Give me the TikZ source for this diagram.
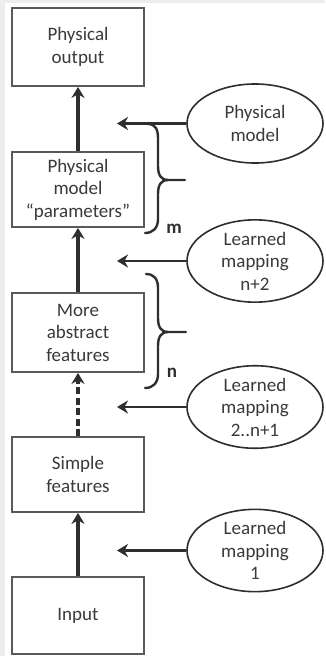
\documentclass[tikz,border=0pt]{standalone}
\usepackage{fontspec}
\setmainfont{Carlito}
\usetikzlibrary{arrows.meta,shapes.geometric}
\definecolor{linec}{HTML}{2E2E2E}
\definecolor{boxc}{HTML}{5A5A5A}
\definecolor{txtc}{HTML}{3A3A3A}
\definecolor{bgc}{HTML}{EDEDED}
\tikzset{
  box/.style={draw=boxc, line width=1.8pt, minimum width=132pt, inner sep=0pt, align=center,
    text=txtc, font=\fontsize{19}{22.5}\selectfont},
  oval/.style={draw=linec, line width=1.6pt, ellipse, minimum width=136pt, minimum height=79pt,
    inner sep=0pt, align=center, text=txtc, font=\fontsize{19}{22.5}\selectfont},
  uparrow/.style={draw=linec, line width=3.6pt, -{Stealth[length=11pt,width=13pt]}},
  sidearrow/.style={draw=linec, line width=2.8pt, -{Stealth[length=11pt,width=13pt]}},
  bracec/.style={draw=linec, line width=2.4pt, line cap=round, line join=round},
  lbl/.style={text=linec, font=\fontsize{19}{22}\selectfont\bfseries, inner sep=0pt}
}
\begin{document}
\begin{tikzpicture}[x=1pt,y=-1pt]
\useasboundingbox (0,0) rectangle (325,656);
\fill[bgc] (0,0) rectangle (325,656);
\fill[white] (5,3) rectangle (325,656);

% boxes
\node[box, minimum height=78pt] (out) at (78,47) {Physical\\output};
\node[box, minimum height=75pt] (par) at (78,189.5) {Physical\\model\\“parameters”};
\node[box, minimum height=79pt] (abs) at (78,332.5) {More\\abstract\\features};
\node[box, minimum height=75pt] (simp) at (78,474.5) {Simple\\features};
\node[box, minimum height=77pt] (inp) at (78,615.5) {Input};

% ellipses
\node[oval] (pm) at (255,123.5) {Physical\\model};
\node[oval] (l2) at (255,261) {Learned\\mapping\\n+2};
\node[oval] (lk) at (255,407) {Learned\\mapping\\2..n+1};
\node[oval] (l1) at (255,550.5) {Learned\\mapping\\1};

% arrow ends
\coordinate (apm) at (117,123.5);
\coordinate (al2) at (117,261);
\coordinate (alk) at (117,407);
\coordinate (al1) at (117,550.5);

% vertical arrows
\draw[uparrow] (par.north) -- (out.south);
\draw[uparrow] (abs.north) -- (par.south);
\draw[uparrow, dash pattern=on 7pt off 3.5pt] (simp.north) -- (abs.south);
\draw[uparrow] (inp.north) -- (simp.south);

% side arrows
\draw[sidearrow] (pm.west) -- (apm);
\draw[sidearrow] (l2.west) -- (al2);
\draw[sidearrow] (lk.west) -- (alk);
\draw[sidearrow] (l1.west) -- (al1);

% brace m
\draw[bracec] (148,124) .. controls (155,124) and (158,129) .. (158,138) -- (158,166)
  .. controls (158,175) and (161,180) .. (168,180) -- (185,180);
\draw[bracec] (145,233) .. controls (153,233) and (158,228) .. (158,219) -- (158,194)
  .. controls (158,185) and (161,180) .. (168,180);
% brace n
\draw[bracec] (146,274) .. controls (154,274) and (158,279) .. (158,288) -- (158,318)
  .. controls (158,327) and (161,332) .. (168,332) -- (186,332);
\draw[bracec] (145,388) .. controls (153,388) and (158,383) .. (158,374) -- (158,346)
  .. controls (158,337) and (161,332) .. (168,332);

\node[lbl] (m) at (174,229) {m};
\node[lbl] (n) at (172,373) {n};
\end{tikzpicture}
\end{document}
